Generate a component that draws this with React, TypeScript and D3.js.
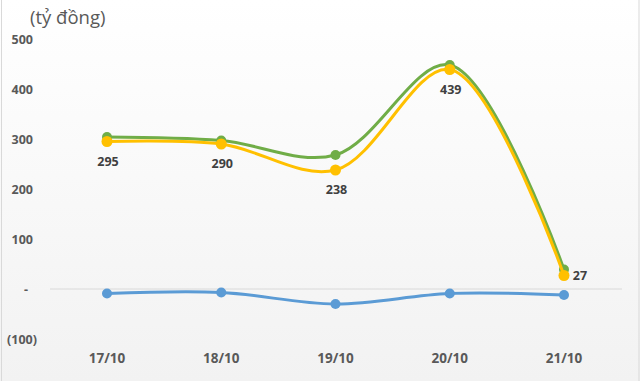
import React from "react";
import * as d3 from "d3";

const categories = ["17/10", "18/10", "19/10", "20/10", "21/10"];
const greenValues = [304, 297, 268, 448, 39];
const yellowValues = [295, 290, 238, 439, 27];
const blueValues = [-9, -7, -30, -9, -12];
const yTicks = [500, 400, 300, 200, 100, 0, -100];
const unitLabel = "(tỷ đồng)";

const W = 640;
const H = 381;
const FONT = "'Open Sans', 'Noto Sans', sans-serif";

export default function App() {
  const y = d3.scaleLinear().domain([-100, 500]).range([339, 39]);
  const x = d3.scalePoint<string>().domain(categories).range([107, 564]);

  const line = d3
    .line<number>()
    .x((_, i) => x(categories[i]) as number)
    .y((d) => y(d))
    .curve(d3.curveCatmullRom.alpha(0.5));

  const series = [
    { values: blueValues, color: "#5B9BD5", r: 5 },
    { values: greenValues, color: "#70AD47", r: 5 },
    { values: yellowValues, color: "#FFC000", r: 5.5 },
  ];

  const fmt = (v: number) => (v === 0 ? "-" : v < 0 ? `(${-v})` : String(v));

  return (
    <svg
      width={W}
      height={H}
      style={{ position: "absolute", left: 0, top: 0 }}
      fontFamily={FONT}
    >
      <defs>
        <linearGradient id="bg" x1="0" y1="0" x2="0" y2="1">
          <stop offset="0" stopColor="#ffffff" />
          <stop offset="1" stopColor="#f2f2f2" />
        </linearGradient>
      </defs>
      <rect x={0} y={0} width={W} height={H} fill="url(#bg)" />
      <line x1={1.5} x2={1.5} y1={0} y2={H} stroke="#d9d9d9" strokeWidth={1} />
      <line x1={639} x2={639} y1={0} y2={H} stroke="#d9d9d9" strokeWidth={1} />

      <text x={30} y={24} fontSize={18.5} fill="#595959">
        {unitLabel}
      </text>

      {yTicks.map((t) => (
        <text
          key={t}
          x={t === 0 ? 26 : t < 0 ? 37 : 33}
          y={y(t)}
          dy="0.36em"
          textAnchor={t === 0 ? "middle" : "end"}
          fontSize={12.5}
          fontWeight="bold"
          fill="#595959"
        >
          {fmt(t)}
        </text>
      ))}

      <line x1={50} x2={622} y1={y(0)} y2={y(0)} stroke="#d9d9d9" strokeWidth={1.2} />

      {categories.map((c) => (
        <text
          key={c}
          x={x(c) as number}
          y={363}
          textAnchor="middle"
          fontSize={13.5}
          fontWeight="bold"
          fill="#595959"
        >
          {c}
        </text>
      ))}

      {series.map((s, si) => (
        <g key={si}>
          <path d={line(s.values) || ""} fill="none" stroke={s.color} strokeWidth={3} strokeLinecap="round" />
          {s.values.map((v, i) => (
            <circle key={i} cx={x(categories[i]) as number} cy={y(v)} r={s.r} fill={s.color} />
          ))}
        </g>
      ))}

      {yellowValues.map((v, i) => {
        const last = i === yellowValues.length - 1;
        return (
          <text
            key={i}
            x={last ? (x(categories[i]) as number) + 16 : (x(categories[i]) as number) + 1}
            y={last ? y(v) + 4 : y(v) + 24}
            textAnchor="middle"
            fontSize={12.5}
            fontWeight="bold"
            fill="#404040"
          >
            {v}
          </text>
        );
      })}
    </svg>
  );
}
